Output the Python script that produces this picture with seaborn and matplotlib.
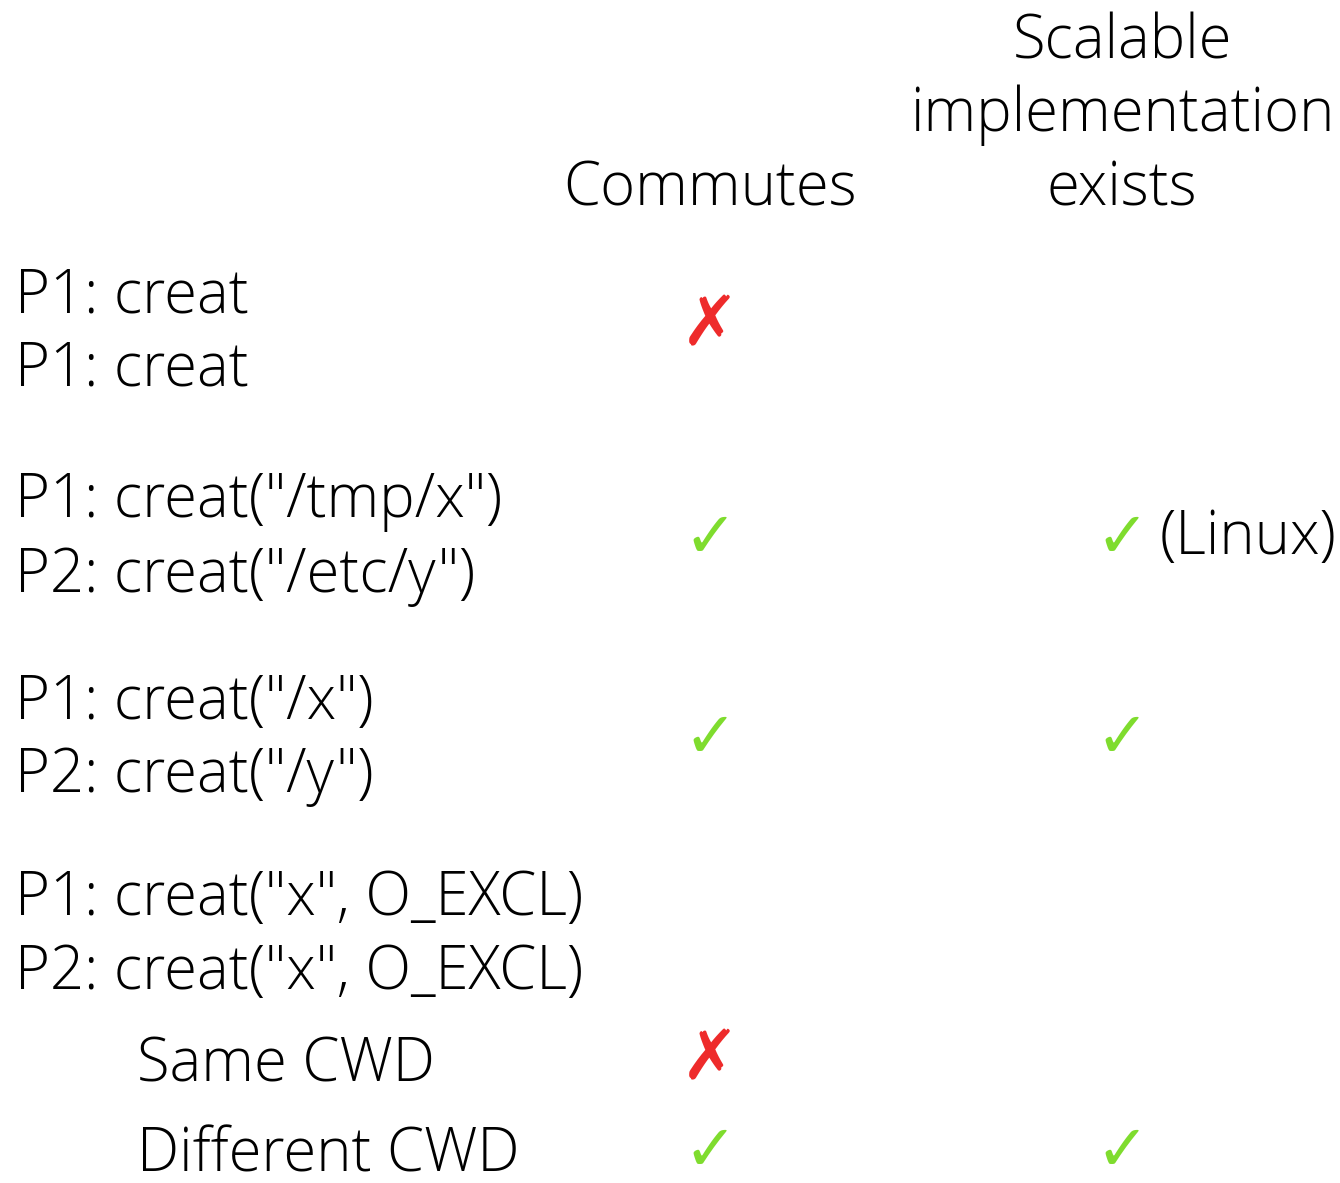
import matplotlib
matplotlib.use("Agg")
import matplotlib.pyplot as plt
import seaborn as sns

sns.set_theme(style="white")
plt.rcParams['font.family'] = ['Open Sans', 'DejaVu Sans']

# table content
col_headers = ["Commutes", "Scalable\nimplementation\nexists"]
row_lines = [
    ["P1: creat", "P1: creat"],
    ['P1: creat("/tmp/x")', 'P2: creat("/etc/y")'],
    ['P1: creat("/x")', 'P2: creat("/y")'],
    ['P1: creat("x", O_EXCL)', 'P2: creat("x", O_EXCL)'],
    ["Same CWD"],
    ["Different CWD"],
]
commutes = [False, True, True, None, False, True]
scalable = [None, True, True, None, None, True]
scalable_note = [None, "(Linux)", None, None, None, None]

# layout (pixels)
W, H = 1340, 1183
row_baselines = [[312, 385], [517, 592], [719, 792], [915, 989], [1082], [1172]]
row_marks_y = [326, 539, 739, None, 1060, 1152]
row_indent = [15, 15, 15, 15, 137, 137]
col_x = [710, 1122]
header_baselines = [[205], [58, 131, 205]]

GREEN = "#7fdc2e"
RED = "#ee2b2b"
FS = 43

fig = plt.figure(figsize=(W / 100, H / 100), dpi=100)
ax = fig.add_axes([0, 0, 1, 1])
ax.set_xlim(0, W)
ax.set_ylim(H, 0)
ax.axis("off")

for x, head, bases in zip(col_x, col_headers, header_baselines):
    for line, yb in zip(head.split("\n"), bases):
        ax.text(x, yb, line, ha="center", va="baseline", fontsize=FS,
                fontweight="light", color="black")

for lines, bases, xi in zip(row_lines, row_baselines, row_indent):
    for line, yb in zip(lines, bases):
        ax.text(xi, yb, line, ha="left", va="baseline", fontsize=FS,
                fontweight="light", color="black")


def mark(x, y, val):
    if val is None or y is None:
        return
    if val:
        ax.text(x, y, "\u2713", ha="center", va="center", fontsize=46,
                color=GREEN, family=["DejaVu Sans"], fontweight="bold")
    else:
        ax.text(x, y, "\u2717", ha="center", va="center", fontsize=50,
                color=RED, family=["DejaVu Sans"], fontweight="bold")


for i in range(len(row_lines)):
    mark(col_x[0], row_marks_y[i], commutes[i])
    mark(col_x[1], row_marks_y[i], scalable[i])
    if scalable_note[i]:
        ax.text(col_x[1] + 38, row_baselines[i][0] + 37, scalable_note[i],
                ha="left", va="baseline", fontsize=FS, fontweight="light",
                color="black")

fig.savefig("out.png", dpi=100, facecolor="white")
